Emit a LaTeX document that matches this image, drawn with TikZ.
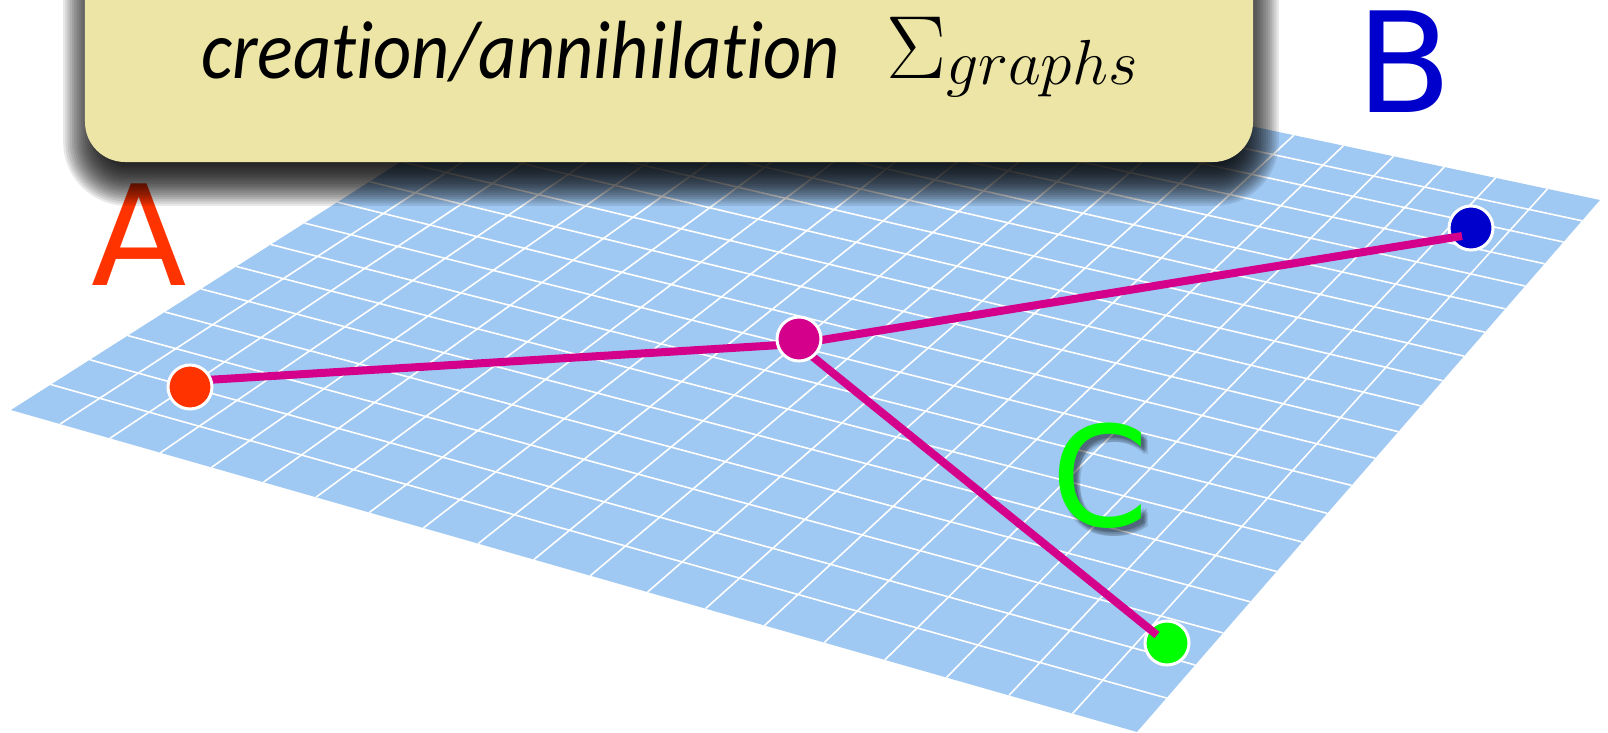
\documentclass[tikz,border=0pt]{standalone}
\usepackage{fix-cm}
\usepackage{fontspec}
\setmainfont{Carlito}[Ligatures=CommonOff]
\newfontfamily\lblfont{DejaVu Sans}
\definecolor{planeblue}{RGB}{159,200,242}
\definecolor{boxfill}{RGB}{236,229,166}
\definecolor{mag}{RGB}{212,0,140}
\definecolor{ared}{RGB}{255,51,0}
\definecolor{bblue}{RGB}{0,0,204}
\definecolor{cgreen}{RGB}{0,255,0}
\newcommand\hpt[3]{%
  \pgfmathsetmacro\hw{-0.13285*#1+0.25662*#2+1}%
  \pgfmathsetmacro\hx{(974.95*#1+812.09*#2+11)/\hw}%
  \pgfmathsetmacro\hy{(224.75*#1-410*#2+410)/\hw}%
  \coordinate (#3) at (\hx,\hy);}
\begin{document}
\begin{tikzpicture}[x=1bp,y=-1bp,
  gridline/.style={white,line width=1.6bp},
  dotnode/.style={circle,draw=white,line width=3bp,minimum size=44bp,inner sep=0pt},
  edgeline/.style={mag,line width=8bp},
  lbl/.style={font=\lblfont\fontsize{140}{150}\selectfont,inner sep=0pt,anchor=base},
  boxnode/.style={fill=boxfill,rounded corners=40bp,inner sep=0pt,minimum width=1168bp,minimum height=242bp}]
\useasboundingbox (0,0) rectangle (1608,733);
% plane
\hpt{0}{0}{p00}\hpt{1}{0}{p10}\hpt{1}{1}{p11}\hpt{0}{1}{p01}
\fill[planeblue] (p00) -- (p10) -- (p11) -- (p01) -- cycle;
\foreach \i in {1,...,19}{
  \pgfmathsetmacro\t{\i/20}
  \hpt{\t}{0}{ga}\hpt{\t}{1}{gb}
  \draw[gridline] (ga) -- (gb);
  \hpt{0}{\t}{gc}\hpt{1}{\t}{gd}
  \draw[gridline] (gc) -- (gd);
}
% labels
\node[lbl,text=ared] (la) at (139,285) {A};
\node[lbl,text=bblue] (lb) at (1404,113) {B};
\foreach \dx/\dy in {3/4,5/6,7/8,6/4,4/8}{
  \node[lbl,text=black,opacity=0.12] at (1100+\dx,526+\dy) {C};
}
\node[lbl,text=cgreen] (lc) at (1100,526) {C};
% dots under the lines
\node[dotnode,fill=bblue] (b) at (1471,228) {};
\node[dotnode,fill=cgreen] (c) at (1167,643) {};
% connectors
\coordinate (astart) at (190,381);
\coordinate (j) at (797,344);
\coordinate (bend) at (1462,236);
\coordinate (cend) at (1157,635);
\draw[edgeline] (astart) -- (j);
\draw[edgeline] (j) -- (bend);
\draw[edgeline] (j) -- (cend);
% dots over the lines
\node[dotnode,fill=ared] (a) at (190,387) {};
\node[dotnode,fill=mag] (m) at (799,339) {};
% box shadow
\foreach \k in {0,...,19}{
  \pgfmathsetmacro\e{-18+2.2*\k}
  \pgfmathsetmacro\r{max(6,40+\e)}
  \fill[black,opacity=0.09,rounded corners=\r bp] (87-\e,-80) rectangle (1255+\e,182+\e);
}
% box
\node[boxnode] (box) at (669,41) {};
\node[anchor=base west,inner sep=0pt,font=\itshape\fontsize{74}{84}\selectfont] (t1) at (201,79) {\scalebox{1.01}[1.12]{creation/annihilation}};
\node[anchor=base west,inner sep=0pt] (t2) at (886,79) {{\fontsize{90}{96}\selectfont$\Sigma$}\raisebox{-6bp}{\fontsize{64}{72}\selectfont$graphs$}};
\end{tikzpicture}
\end{document}
